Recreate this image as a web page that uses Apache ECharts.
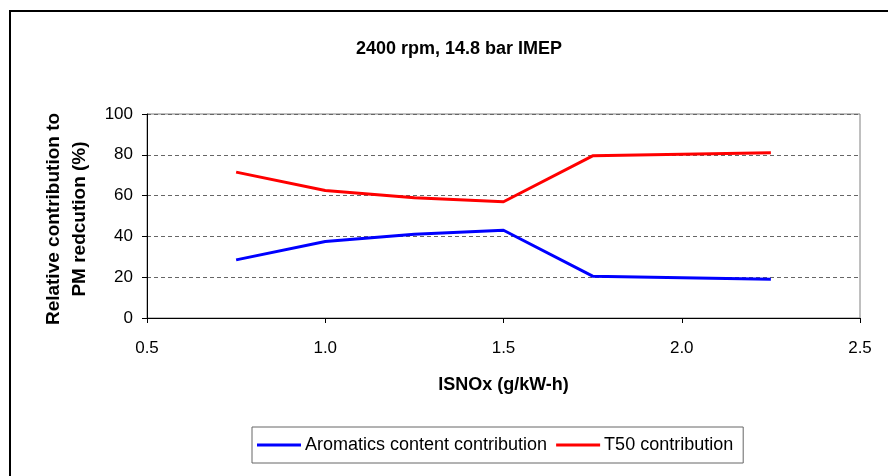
<!DOCTYPE html>
<html>
<head>
<meta charset="utf-8">
<script src="https://cdn.jsdelivr.net/npm/echarts@6/dist/echarts.min.js"></script>
<style>
  html, body { margin: 0; padding: 0; background: #fff; }
  #chart { width: 888px; height: 476px; }
</style>
</head>
<body>
<div id="chart"></div>
<script>
// ISNOx values (g/kW-h)
const isnox = [0.75, 1.0, 1.25, 1.5, 1.75, 2.25]
const aromatics = [28.5, 37.5, 41, 43, 20.5, 19]
const t50 = [71.5, 62.5, 59, 57, 79.5, 81]
const seriesNames = ['Aromatics content contribution', 'T50 contribution']

const font = "'Liberation Sans', Arial, sans-serif"
const pairs = (xs, ys) => xs.map((x, i) => [x, ys[i]])

const myChart = echarts.init(document.getElementById('chart'))

myChart.setOption({
  animation: false,
  backgroundColor: '#fff',
  title: {
    text: '2400 rpm, 14.8 bar IMEP',
    left: 454,
    top: 35,
    textAlign: 'center',
    textStyle: { fontFamily: font, fontSize: 18, fontWeight: 'bold', color: '#000' }
  },
  graphic: [
    {
      type: 'rect',
      shape: { x: 10, y: 11, width: 900, height: 480 },
      style: { fill: 'none', stroke: '#000', lineWidth: 2 }
    },
    {
      type: 'text',
      rotation: Math.PI / 2,
      x: 67,
      y: 219,
      style: {
        text: 'Relative contribution to\nPM redcution (%)',
        fontFamily: font,
        fontSize: 19,
        fontWeight: 'bold',
        fill: '#000',
        align: 'center',
        verticalAlign: 'middle',
        lineHeight: 26
      }
    }
  ],
  legend: {
    left: 252,
    top: 427,
    data: seriesNames,
    icon: 'rect',
    itemWidth: 44,
    itemHeight: 3,
    itemGap: 9,
    padding: [9, 10, 9, 5],
    borderColor: '#666',
    borderWidth: 1,
    textStyle: { fontFamily: font, fontSize: 18, color: '#000', padding: [0, 0, 0, -1] }
  },
  grid: {
    left: 147,
    right: 28,
    top: 114,
    bottom: 158,
    show: true,
    borderColor: '#808080',
    borderWidth: 1
  },
  xAxis: {
    type: 'value',
    min: 0.5,
    max: 2.5,
    interval: 0.5,
    name: 'ISNOx (g/kW-h)',
    nameLocation: 'middle',
    nameGap: 58,
    nameTextStyle: { fontFamily: font, fontSize: 18, fontWeight: 'bold', color: '#000' },
    axisLine: { lineStyle: { color: '#000', width: 1 } },
    axisTick: { show: true, length: 5, lineStyle: { color: '#000' } },
    axisLabel: {
      fontFamily: font,
      fontSize: 17,
      color: '#000',
      margin: 22,
      formatter: v => v.toFixed(1)
    },
    splitLine: { show: false }
  },
  yAxis: {
    type: 'value',
    min: 0,
    max: 100,
    interval: 20,
    axisLine: { show: true, lineStyle: { color: '#000', width: 1 } },
    axisTick: { show: true, length: 5, lineStyle: { color: '#000' } },
    axisLabel: { fontFamily: font, fontSize: 17, color: '#000', margin: 14 },
    splitLine: {
      show: true,
      lineStyle: { type: [4, 3], color: '#666', width: 1 }
    }
  },
  series: [
    {
      name: seriesNames[0],
      type: 'line',
      data: pairs(isnox, aromatics),
      showSymbol: false,
      color: '#0000ff',
      lineStyle: { width: 3, color: '#0000ff' }
    },
    {
      name: seriesNames[1],
      type: 'line',
      data: pairs(isnox, t50),
      showSymbol: false,
      color: '#ff0000',
      lineStyle: { width: 3, color: '#ff0000' }
    }
  ]
})
</script>
</body>
</html>
